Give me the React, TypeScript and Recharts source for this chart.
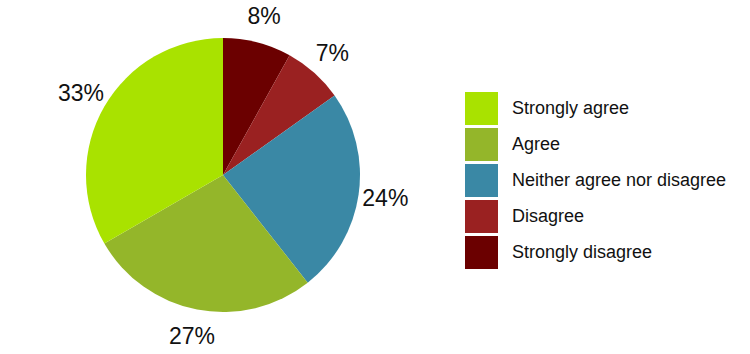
import React from 'react';
import { PieChart, Pie, Cell } from 'recharts';

// legend order, top to bottom
const categories = ['Strongly agree', 'Agree', 'Neither agree nor disagree', 'Disagree', 'Strongly disagree'];
const shares = [33, 27, 24, 7, 8];
const colors = ['#a9e200', '#94b62a', '#3a88a5', '#9a2121', '#6b0000'];

const FONT = '"Liberation Sans", Arial, sans-serif';
const RAD = Math.PI / 180;

// pie runs clockwise from 12 o'clock starting with the last category
const pieData = categories
  .map((name, i) => ({ name, value: shares[i], fill: colors[i] }))
  .reverse();

function renderLabel(props: any) {
  const { cx, cy, midAngle, outerRadius, value } = props;
  const r = outerRadius + 27;
  const x = cx + r * Math.cos(-midAngle * RAD);
  const y = cy + r * Math.sin(-midAngle * RAD);
  return (
    <text
      x={x}
      y={y}
      textAnchor="middle"
      dominantBaseline="central"
      fill="#111"
      fontSize={23}
      fontFamily={FONT}
    >
      {value}%
    </text>
  );
}

export default function App() {
  return (
    <div style={{ position: 'absolute', left: 0, top: 0, width: 750, height: 354, background: '#fff' }}>
      <PieChart width={750} height={354} margin={{ top: 0, right: 0, bottom: 0, left: 0 }}>
        <Pie
          data={pieData}
          dataKey="value"
          nameKey="name"
          cx={223}
          cy={175}
          outerRadius={137}
          startAngle={90}
          endAngle={-270}
          stroke="none"
          label={renderLabel}
          labelLine={false}
          isAnimationActive={false}
        >
          {pieData.map((d) => (
            <Cell key={d.name} fill={d.fill} />
          ))}
        </Pie>
      </PieChart>
      {categories.map((name, i) => (
        <div
          key={name}
          style={{
            position: 'absolute',
            left: 465,
            top: 92 + i * 36,
            height: 33,
            display: 'flex',
            alignItems: 'center',
            fontFamily: FONT,
            fontSize: 18,
            color: '#111',
            whiteSpace: 'nowrap',
          }}
        >
          <span style={{ display: 'inline-block', width: 33, height: 33, background: colors[i], marginRight: 14 }} />
          {name}
        </div>
      ))}
    </div>
  );
}
